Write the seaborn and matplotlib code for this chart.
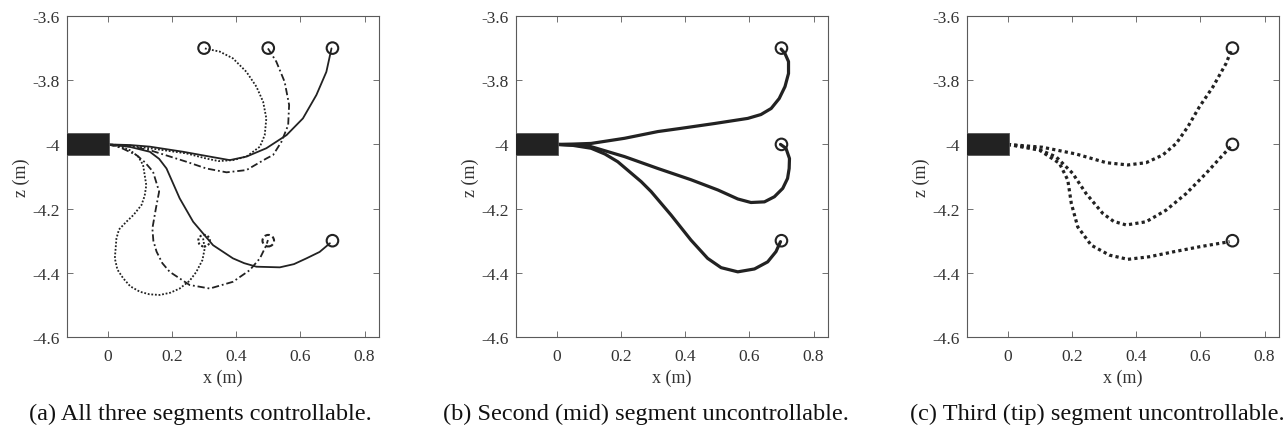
import numpy as np
import pandas as pd
import seaborn as sns
import matplotlib.pyplot as plt
from matplotlib.patches import Circle, Rectangle

# axis ticks
x_ticks = [0, 0.2, 0.4, 0.6, 0.8]
x_tick_labels = ['0', '0.2', '0.4', '0.6', '0.8']
z_ticks = [-3.6, -3.8, -4.0, -4.2, -4.4, -4.6]
z_tick_labels = ['-3.6', '-3.8', '-4', '-4.2', '-4.4', '-4.6']

# fixed base of the arm
base_x = [-0.14, 0.005]
base_z = [-4.034, -3.966]

# (a) all three segments controllable -- targets
a_target_x = [0.3, 0.5, 0.7, 0.3, 0.5, 0.7]
a_target_z = [-3.7, -3.7, -3.7, -4.3, -4.3, -4.3]

# (a) curves
a_solid_up_x = [0.0, 0.07, 0.131, 0.235, 0.318, 0.380, 0.432, 0.494, 0.557, 0.608, 0.650, 0.681, 0.697]
a_solid_up_z = [-4.0, -4.002, -4.007, -4.023, -4.038, -4.049, -4.038, -4.012, -3.971, -3.919, -3.846, -3.774, -3.701]
a_dashdot_up_x = [0.0, 0.07, 0.131, 0.245, 0.307, 0.370, 0.432, 0.494, 0.515, 0.541, 0.562, 0.565, 0.551, 0.525, 0.499]
a_dashdot_up_z = [-4.0, -4.006, -4.018, -4.054, -4.075, -4.087, -4.080, -4.044, -4.033, -3.992, -3.940, -3.877, -3.805, -3.742, -3.701]
a_dotted_up_x = [0.0, 0.07, 0.131, 0.245, 0.307, 0.345, 0.390, 0.432, 0.474, 0.489, 0.494, 0.484, 0.463, 0.432, 0.390, 0.349, 0.302]
a_dotted_up_z = [-4.0, -4.004, -4.012, -4.028, -4.044, -4.052, -4.049, -4.038, -4.007, -3.971, -3.919, -3.867, -3.820, -3.774, -3.732, -3.711, -3.701]
a_solid_low_x = [0.0, 0.07, 0.131, 0.160, 0.183, 0.224, 0.266, 0.328, 0.390, 0.425, 0.463, 0.536, 0.580, 0.619, 0.660, 0.692]
a_solid_low_z = [-4.0, -4.008, -4.023, -4.045, -4.075, -4.168, -4.241, -4.314, -4.355, -4.370, -4.381, -4.383, -4.373, -4.355, -4.335, -4.308]
a_dashdot_low_x = [0.0, 0.04, 0.089, 0.115, 0.141, 0.160, 0.150, 0.139, 0.142, 0.152, 0.170, 0.193, 0.255, 0.318, 0.390, 0.442, 0.474, 0.494, 0.499]
a_dashdot_low_z = [-4.0, -4.01, -4.033, -4.055, -4.085, -4.147, -4.199, -4.262, -4.300, -4.334, -4.370, -4.397, -4.438, -4.449, -4.428, -4.392, -4.355, -4.314, -4.298]
a_dotted_low_x = [0.0, 0.035, 0.069, 0.095, 0.110, 0.120, 0.115, 0.105, 0.080, 0.058, 0.035, 0.027, 0.022, 0.030, 0.048, 0.070, 0.100, 0.130, 0.162, 0.195, 0.224, 0.255, 0.276, 0.295, 0.302, 0.297]
a_dotted_low_z = [-4.0, -4.006, -4.018, -4.038, -4.064, -4.127, -4.160, -4.189, -4.220, -4.241, -4.265, -4.293, -4.355, -4.390, -4.417, -4.442, -4.459, -4.467, -4.469, -4.462, -4.449, -4.425, -4.397, -4.360, -4.324, -4.293]

# (b) and (c) targets
bc_target_x = [0.7, 0.7, 0.7]
bc_target_z = [-3.7, -4.0, -4.3]

# (b) second segment uncontrollable
b_up_x = [0.0, 0.05, 0.107, 0.211, 0.315, 0.387, 0.491, 0.595, 0.636, 0.668, 0.693, 0.711, 0.722, 0.722, 0.711, 0.699]
b_up_z = [-4.0, -3.999, -3.997, -3.981, -3.960, -3.950, -3.935, -3.919, -3.907, -3.888, -3.857, -3.820, -3.779, -3.742, -3.717, -3.703]
b_mid_x = [0.0, 0.05, 0.107, 0.211, 0.315, 0.418, 0.502, 0.564, 0.605, 0.647, 0.678, 0.704, 0.719, 0.724, 0.725, 0.714, 0.697]
b_mid_z = [-4.0, -4.002, -4.007, -4.038, -4.075, -4.110, -4.142, -4.170, -4.181, -4.179, -4.163, -4.137, -4.106, -4.075, -4.044, -4.012, -4.0]
b_low_x = [0.0, 0.05, 0.107, 0.150, 0.190, 0.263, 0.294, 0.356, 0.418, 0.470, 0.512, 0.564, 0.616, 0.657, 0.683, 0.697]
b_low_z = [-4.0, -4.003, -4.012, -4.030, -4.054, -4.116, -4.147, -4.220, -4.298, -4.355, -4.384, -4.397, -4.388, -4.366, -4.334, -4.303]

# (c) third segment uncontrollable
c_up_x = [0.0, 0.109, 0.213, 0.307, 0.374, 0.431, 0.483, 0.525, 0.561, 0.597, 0.639, 0.680, 0.699]
c_up_z = [-4.0, -4.009, -4.030, -4.057, -4.064, -4.057, -4.033, -3.997, -3.945, -3.883, -3.821, -3.748, -3.701]
c_mid_x = [0.0, 0.088, 0.151, 0.202, 0.244, 0.296, 0.330, 0.369, 0.431, 0.493, 0.556, 0.618, 0.670, 0.699]
c_mid_z = [-4.0, -4.012, -4.039, -4.090, -4.153, -4.215, -4.240, -4.251, -4.241, -4.205, -4.153, -4.090, -4.033, -4.002]
c_low_x = [0.0, 0.099, 0.161, 0.187, 0.198, 0.218, 0.260, 0.317, 0.374, 0.441, 0.514, 0.597, 0.691]
c_low_z = [-4.0, -4.018, -4.059, -4.111, -4.184, -4.257, -4.314, -4.345, -4.358, -4.350, -4.335, -4.319, -4.303]

captions = ['(a) All three segments controllable.',
            '(b) Second (mid) segment uncontrollable.',
            '(c) Third (tip) segment uncontrollable.']

sns.set_theme(style='ticks')
plt.rcParams['font.family'] = ['Liberation Serif', 'DejaVu Serif']

ink = '#222222'
edge = '#5a5a5a'
DASHDOT = (0, (4, 1.6, 1, 1.6))

fig = plt.figure(figsize=(12.83, 4.35), dpi=100)
W, H = 1283, 435
lefts = [67, 516, 967]
axs = [fig.add_axes([l / W, 1 - 338 / H, 312 / W, 321 / H]) for l in lefts]


def setup(ax):
    ax.set_xlim(-0.127, 0.845)
    ax.set_ylim(-4.6, -3.6)
    ax.set_xticks(x_ticks)
    ax.set_xticklabels(x_tick_labels)
    ax.set_yticks(z_ticks)
    ax.set_yticklabels(z_tick_labels)
    ax.tick_params(direction='in', top=True, right=True, length=4, width=0.6,
                   color=edge, labelcolor='#333333', labelsize=12.5, pad=5)
    ax.tick_params(axis='x', pad=8)
    for s in ax.spines.values():
        s.set_color(edge)
        s.set_linewidth(0.8)
    ax.set_xlabel('x (m)', fontsize=13, color='#333333', labelpad=3)
    ax.set_ylabel('z (m)', fontsize=13, color='#333333', labelpad=2)
    ax.add_patch(Rectangle((base_x[0], base_z[0]), base_x[1] - base_x[0],
                           base_z[1] - base_z[0], facecolor=ink,
                           edgecolor='#555555', lw=0.6, zorder=3))


def curve(ax, xs, zs, lw, ls):
    df = pd.DataFrame({'x': xs, 'z': zs})
    sns.lineplot(data=df, x='x', y='z', ax=ax, sort=False, estimator=None,
                 color=ink, lw=lw, linestyle=ls, legend=False,
                 solid_joinstyle='round', dash_joinstyle='round')


def target(ax, x, z, ls='-'):
    ax.add_patch(Circle((x, z), 0.018, fill=False, edgecolor=ink, lw=1.5,
                        linestyle=ls, zorder=4))


# (a)
ax = axs[0]
setup(ax)
curve(ax, a_solid_up_x, a_solid_up_z, 1.3, '-')
curve(ax, a_dashdot_up_x, a_dashdot_up_z, 1.3, DASHDOT)
curve(ax, a_dotted_up_x, a_dotted_up_z, 1.3, (0, (1, 1)))
curve(ax, a_solid_low_x, a_solid_low_z, 1.3, '-')
curve(ax, a_dashdot_low_x, a_dashdot_low_z, 1.3, DASHDOT)
curve(ax, a_dotted_low_x, a_dotted_low_z, 1.3, (0, (1, 1)))
circle_styles = ['-', '-', '-', (0, (1, 1)), (0, (2.5, 1.5)), '-']
for x, z, ls in zip(a_target_x, a_target_z, circle_styles):
    target(ax, x, z, ls)

# (b)
ax = axs[1]
setup(ax)
for xs, zs in [(b_up_x, b_up_z), (b_mid_x, b_mid_z), (b_low_x, b_low_z)]:
    curve(ax, xs, zs, 2.3, '-')
for x, z in zip(bc_target_x, bc_target_z):
    target(ax, x, z)

# (c)
ax = axs[2]
setup(ax)
for xs, zs in [(c_up_x, c_up_z), (c_mid_x, c_mid_z), (c_low_x, c_low_z)]:
    curve(ax, xs, zs, 2.3, (0, (1, 1)))
for x, z in zip(bc_target_x, bc_target_z):
    target(ax, x, z)

cap_left = [29, 443, 910]
for l, txt in zip(cap_left, captions):
    fig.text(l / W, 1 - 414 / H, txt, ha='left', va='center', fontsize=17.5,
             color='#111111')

fig.savefig('out.png', dpi=100)
